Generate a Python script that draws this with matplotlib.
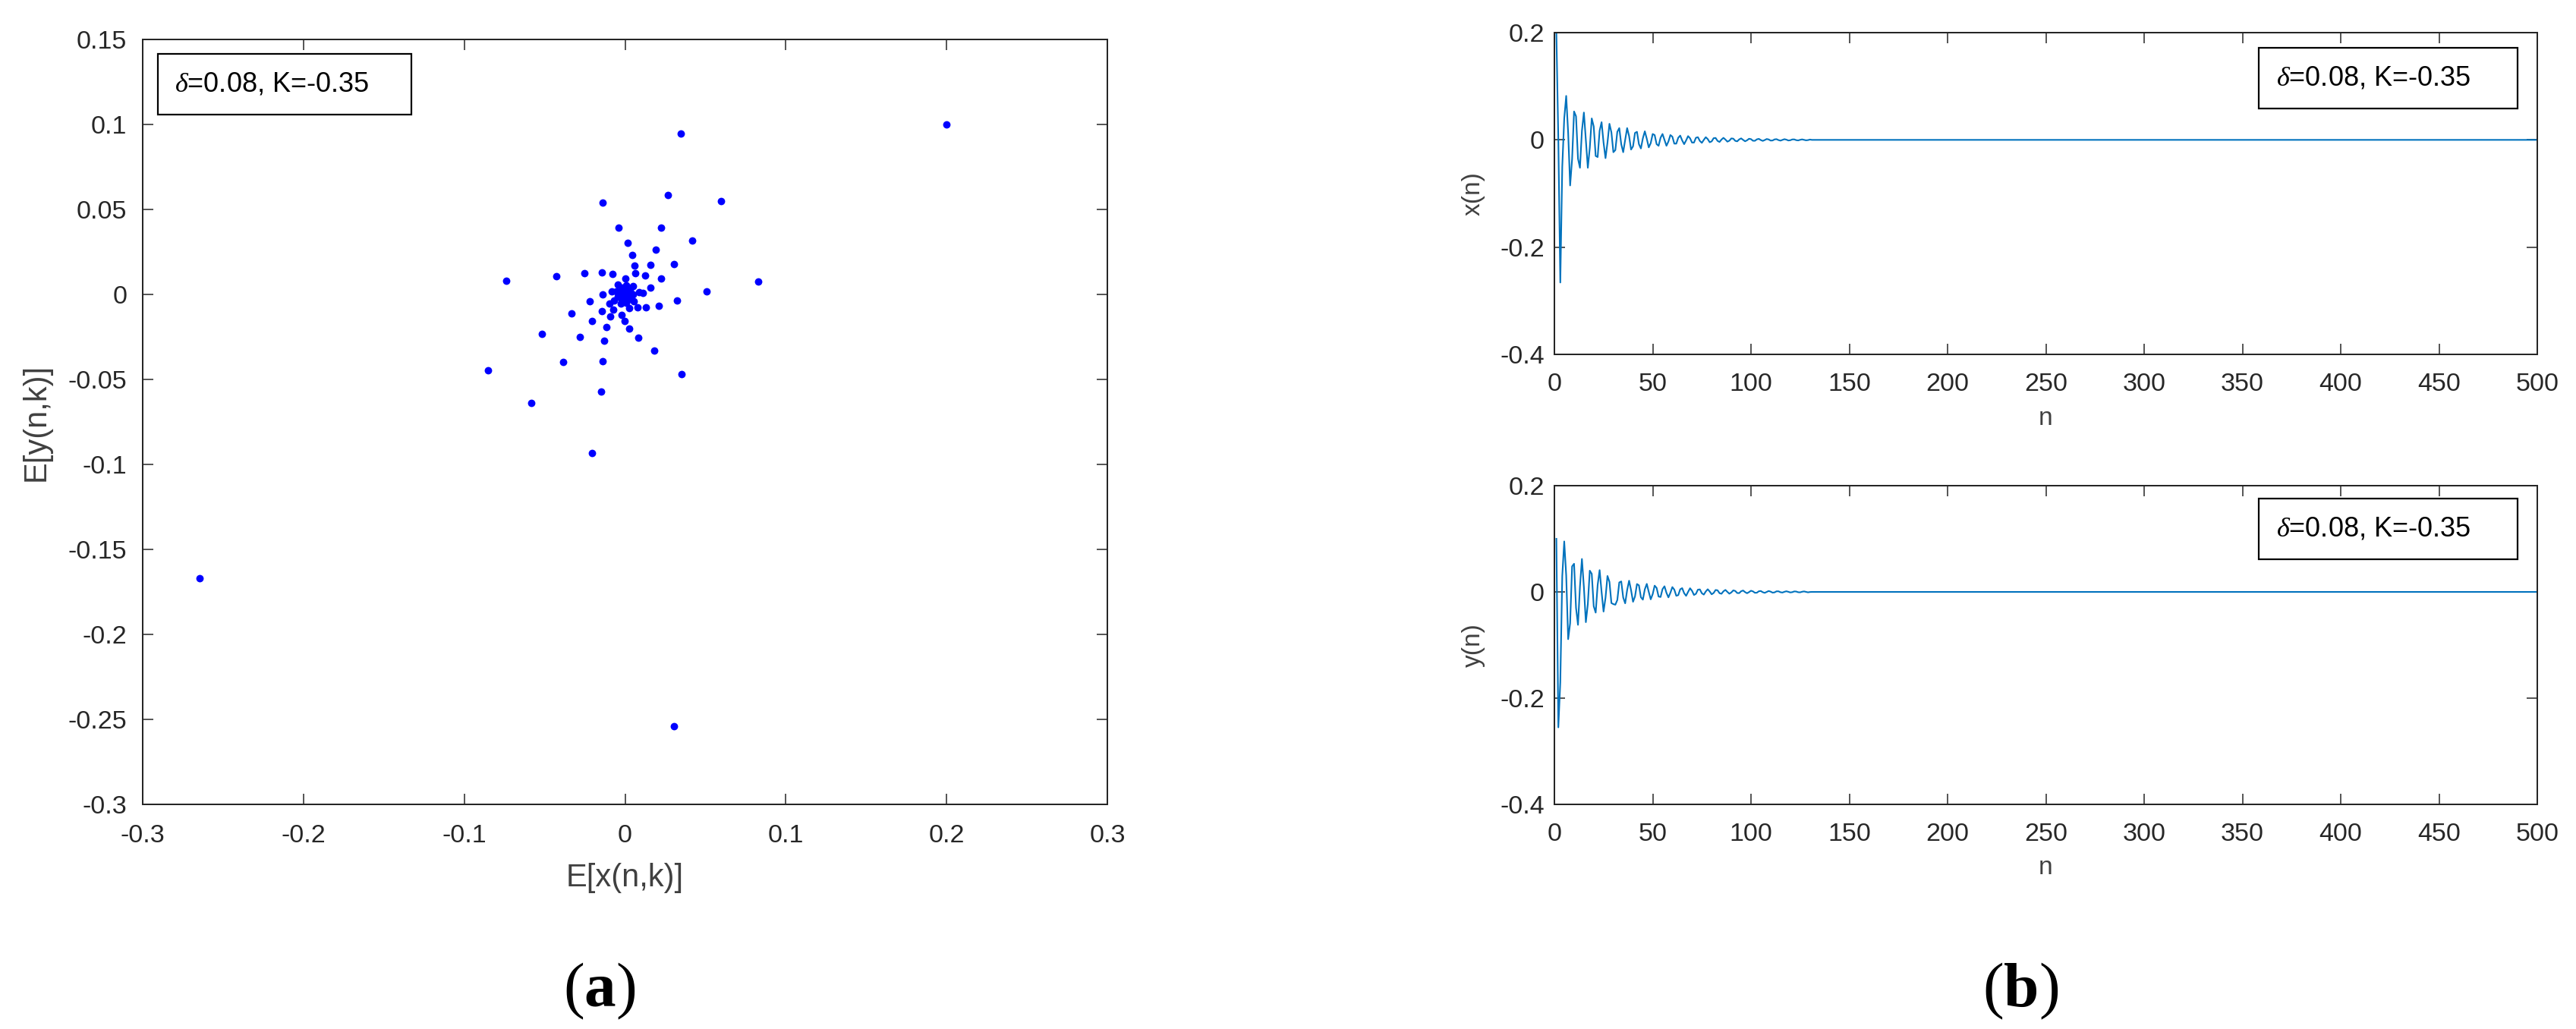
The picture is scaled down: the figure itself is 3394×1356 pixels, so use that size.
import numpy as np
import matplotlib.pyplot as plt
from matplotlib.patches import Rectangle

plt.rcParams["font.family"] = ["Liberation Sans", "DejaVu Sans"]
plt.rcParams["mathtext.fontset"] = "custom"
plt.rcParams["mathtext.it"] = "Liberation Serif:italic"
plt.rcParams["mathtext.bf"] = "Liberation Serif:bold"
plt.rcParams["mathtext.rm"] = "Liberation Serif"
plt.rcParams["axes.unicode_minus"] = False

# (a) phase portrait, E[x(n,k)] vs E[y(n,k)]
ex_outer = [0.2, 0.0345, -0.0139, 0.0266, 0.0599, -0.0042, 0.0224, 0.0418, 0.0017, 0.019,
            0.0046, 0.0304, 0.0059, 0.0156, -0.0739, -0.0426, -0.0253, -0.0144, -0.0076, 0.0063,
            0.0127, 0.0224, 0.0827, 0.0507, 0.016, 0.011, -0.0139, -0.0084, -0.022, 0.0325,
            0.0211, 0.0131, 0.0076, -0.0097, -0.0144, -0.0333, -0.0072, -0.0021, -0.0093, -0.0004,
            -0.0203, -0.0114, 0.0025, -0.0515, -0.0279, 0.0084, -0.0131, 0.0182, -0.0384, -0.0139,
            -0.0853, 0.035, -0.0148, -0.0583, -0.0203, -0.2647, 0.0304]
ey_outer = [0.1, 0.0945, 0.0538, 0.0583, 0.0549, 0.0394, 0.0394, 0.0319, 0.0303, 0.0264,
            0.023, 0.018, 0.0171, 0.0175, 0.0082, 0.0105, 0.0125, 0.0128, 0.0121, 0.0123,
            0.0112, 0.0093, 0.0077, 0.0016, 0.0041, 0.0009, 0.0, 0.0018, -0.0039, -0.0036,
            -0.0066, -0.0075, -0.0075, -0.0052, -0.0096, -0.0112, -0.0091, -0.0121, -0.013, -0.0155,
            -0.0155, -0.0194, -0.02, -0.0232, -0.0251, -0.0255, -0.0273, -0.033, -0.0399, -0.0392,
            -0.0446, -0.0467, -0.0572, -0.064, -0.0932, -0.167, -0.2538]
ex_core = [0.0, 0.0088, 0.0026, -0.0070, -0.0044, 0.0049, 0.0053, -0.0028, -0.0055, 0.0008,
           0.0051, 0.0007, -0.0043, -0.0020, 0.0032, 0.0027, -0.0021, -0.0029, 0.0010, 0.0029,
           0.0, -0.0026, -0.0007, 0.0020, 0.0013, -0.0014, -0.0015, 0.0008, 0.0016, -0.0002,
           -0.0015, -0.0002, 0.0012, 0.0005, -0.0009, -0.0008, 0.0006, 0.0008, -0.0003, -0.0008]
ey_core = [0.0095, 0.0014, -0.0080, -0.0036, 0.0060, 0.0049, -0.0038, -0.0055, 0.0018, 0.0053,
           0.0, -0.0047, -0.0014, 0.0038, 0.0024, -0.0027, -0.0028, 0.0015, 0.0029, -0.0005,
           -0.0028, -0.0004, 0.0023, 0.0010, -0.0018, -0.0014, 0.0011, 0.0016, -0.0005, -0.0016,
           0.0, 0.0014, 0.0004, -0.0011, -0.0006, 0.0008, 0.0008, -0.0004, -0.0009, 0.0001]

# (b) time series for n = 1..130; flat at zero afterwards up to n = 500
n_total = 500
x_head = [0.2, 0.0, -0.266, -0.05, 0.04, 0.082, 0.013, -0.085, -0.036, 0.053,
          0.044, -0.035, -0.052, 0.017, 0.051, 0.0, -0.052, -0.015, 0.040, 0.025,
          -0.030, -0.032, 0.017, 0.033, -0.005, -0.034, -0.005, 0.030, 0.014, -0.023,
          -0.019, 0.015, 0.022, -0.008, -0.023, 0.0, 0.022, 0.007, -0.018, -0.012,
          0.013, 0.015, -0.008, -0.016, 0.003, 0.016, 0.002, -0.014, -0.006, 0.011,
          0.009, -0.008, -0.011, 0.004, 0.011, 0.0, -0.011, -0.003, 0.009, 0.006,
          -0.007, -0.007, 0.004, 0.008, -0.001, -0.008, -0.001, 0.007, 0.003, -0.005,
          -0.005, 0.004, 0.005, -0.002, -0.0055, 0.0, 0.005, 0.0015, -0.0044, -0.0028,
          0.0032, 0.0036, -0.0019, -0.0039, 0.0006, 0.0038, 0.0006, -0.0033, -0.0015, 0.0027,
          0.0023, -0.0018, -0.0027, 0.0009, 0.0028, 0.0, -0.0026, -0.0008, 0.0021, 0.0014,
          -0.0016, -0.0017, 0.0010, 0.0019, -0.0003, -0.0019, -0.0003, 0.0016, 0.0008, -0.0013,
          -0.0011, 0.0009, 0.0013, -0.0004, -0.0014, 0.0, 0.0013, 0.0004, -0.0011, -0.0007,
          0.0008, 0.0009, -0.0005, -0.0010, 0.0001, 0.0009, 0.0001, -0.0008, -0.0004, 0.0006]
y_head = [0.1, -0.255, -0.17, 0.03, 0.095, 0.031, -0.089, -0.059, 0.048, 0.053,
          -0.030, -0.062, 0.010, 0.062, 0.009, -0.057, -0.023, 0.040, 0.034, -0.027,
          -0.039, 0.013, 0.041, 0.0, -0.037, -0.011, 0.030, 0.019, -0.021, -0.023,
          -0.0241, -0.0153, 0.0178, 0.0197, -0.0106, -0.0215, 0.0034, 0.0211, 0.0032, -0.0186,
          -0.0086, 0.0148, 0.0124, -0.0100, -0.0146, 0.0049, 0.0151, 0.0, -0.0140, -0.0042,
          0.0118, 0.0075, -0.0087, -0.0096, 0.0052, 0.0106, -0.0017, -0.0103, -0.0016, 0.0091,
          0.0042, -0.0073, -0.0061, 0.0049, 0.0071, -0.0024, -0.0074, 0.0, 0.0069, 0.0021,
          -0.0058, -0.0036, 0.0042, 0.0047, -0.0025, -0.0051, 0.0008, 0.0050, 0.0008, -0.0045,
          -0.0020, 0.0036, 0.0030, -0.0024, -0.0035, 0.0012, 0.0037, 0.0, -0.0034, -0.0010,
          0.0029, 0.0018, -0.0021, -0.0023, 0.0013, 0.0026, -0.0004, -0.0025, -0.0004, 0.0022,
          0.0010, -0.0017, -0.0015, 0.0012, 0.0017, -0.0006, -0.0018, 0.0, 0.0017, 0.0005,
          -0.0014, -0.0009, 0.0011, 0.0011, -0.0006, -0.0012, 0.0002, 0.0012, 0.0002, -0.0010,
          -0.0005, 0.0009, 0.0007, -0.0006, -0.0008, 0.0003, 0.0009, 0.0, -0.0008, -0.0002]

xa_ticks = [-0.3, -0.2, -0.1, 0, 0.1, 0.2, 0.3]
xa_labels = ["-0.3", "-0.2", "-0.1", "0", "0.1", "0.2", "0.3"]
ya_ticks = [-0.3, -0.25, -0.2, -0.15, -0.1, -0.05, 0, 0.05, 0.1, 0.15]
ya_labels = ["-0.3", "-0.25", "-0.2", "-0.15", "-0.1", "-0.05", "0", "0.05", "0.1", "0.15"]
xb_ticks = list(range(0, 501, 50))
yb_ticks = [-0.4, -0.2, 0, 0.2]
yb_labels = ["-0.4", "-0.2", "0", "0.2"]
note = r"$\delta$=0.08, K=-0.35"

n = np.arange(1, n_total + 1)
xn = np.zeros(n_total)
xn[:len(x_head)] = x_head
yn = np.zeros(n_total)
yn[:len(y_head)] = y_head

INK = "#262626"
LAB = "#404040"
W, H = 3394, 1356


def px_axes(x0, y0, x1, y1):
    return fig.add_axes([x0 / W, 1 - y1 / H, (x1 - x0) / W, (y1 - y0) / H])


def style(ax, size, pad_x, pad_y):
    for s in ax.spines.values():
        s.set_linewidth(1.45)
        s.set_color(INK)
    ax.tick_params(direction="in", length=10, width=1.1, top=True, right=True,
                   labelsize=size, colors=INK)
    ax.tick_params(axis="x", pad=pad_x)
    ax.tick_params(axis="y", pad=pad_y)


def note_box(ax, x0, y0, x1, y1, tx, ty):
    ax.add_patch(Rectangle((x0, y0), x1 - x0, y1 - y0, transform=ax.transAxes,
                           facecolor="white", edgecolor="black", linewidth=1.6,
                           zorder=5, clip_on=False))
    ax.text(tx, ty, note, transform=ax.transAxes, fontsize=26, color="black",
            ha="left", va="center", zorder=6)


fig = plt.figure(figsize=(W / 100, H / 100), dpi=100)

# (a)
ax = px_axes(188, 52, 1459, 1060)
ax.scatter(ex_outer + ex_core, ey_outer + ey_core, s=50, color="#0000ff",
           linewidths=0, zorder=3)
ax.set_xlim(-0.3, 0.3)
ax.set_ylim(-0.3, 0.15)
ax.set_xticks(xa_ticks, xa_labels)
ax.set_yticks(ya_ticks, ya_labels)
style(ax, 24.5, 19, 15)
ax.set_xlabel("E[x(n,k)]", fontsize=30, color=LAB, labelpad=14)
ax.set_ylabel("E[y(n,k)]", fontsize=30, color=LAB, labelpad=16)
note_box(ax, 0.0157, 0.9018, 0.2785, 0.9812, 0.033, 0.9415)

# (b) top and bottom
for (y0, y1), series, lab, box in [((43, 467), xn, "x(n)", (0.7642, 0.9528, 0.8585)),
                                   ((640, 1060), yn, "y(n)", (0.769, 0.9595, 0.864))]:
    ax = px_axes(2048, y0, 3343, y1)
    ax.plot(n, series, color="#0072bd", linewidth=1.5)
    ax.set_xlim(0, 500)
    ax.set_ylim(-0.4, 0.2)
    ax.set_xticks(xb_ticks, [str(t) for t in xb_ticks])
    ax.set_yticks(yb_ticks, yb_labels)
    style(ax, 24.5, 17, 9.5)
    ax.set_xlabel("n", fontsize=24, color=LAB, labelpad=10)
    ax.set_ylabel(lab, fontsize=24, color=LAB, labelpad=14)
    note_box(ax, 0.7166, box[0], 0.9799, box[1], 0.7344, box[2])

fig.text(790 / W, 1 - 1306 / H, r"($\mathbf{a}$)", fontsize=60,
         family="Liberation Serif", ha="center", va="center")
fig.text(2662 / W, 1 - 1306 / H, r"($\mathbf{b}$)", fontsize=60,
         family="Liberation Serif", ha="center", va="center")

fig.savefig("out.png", dpi=100)
